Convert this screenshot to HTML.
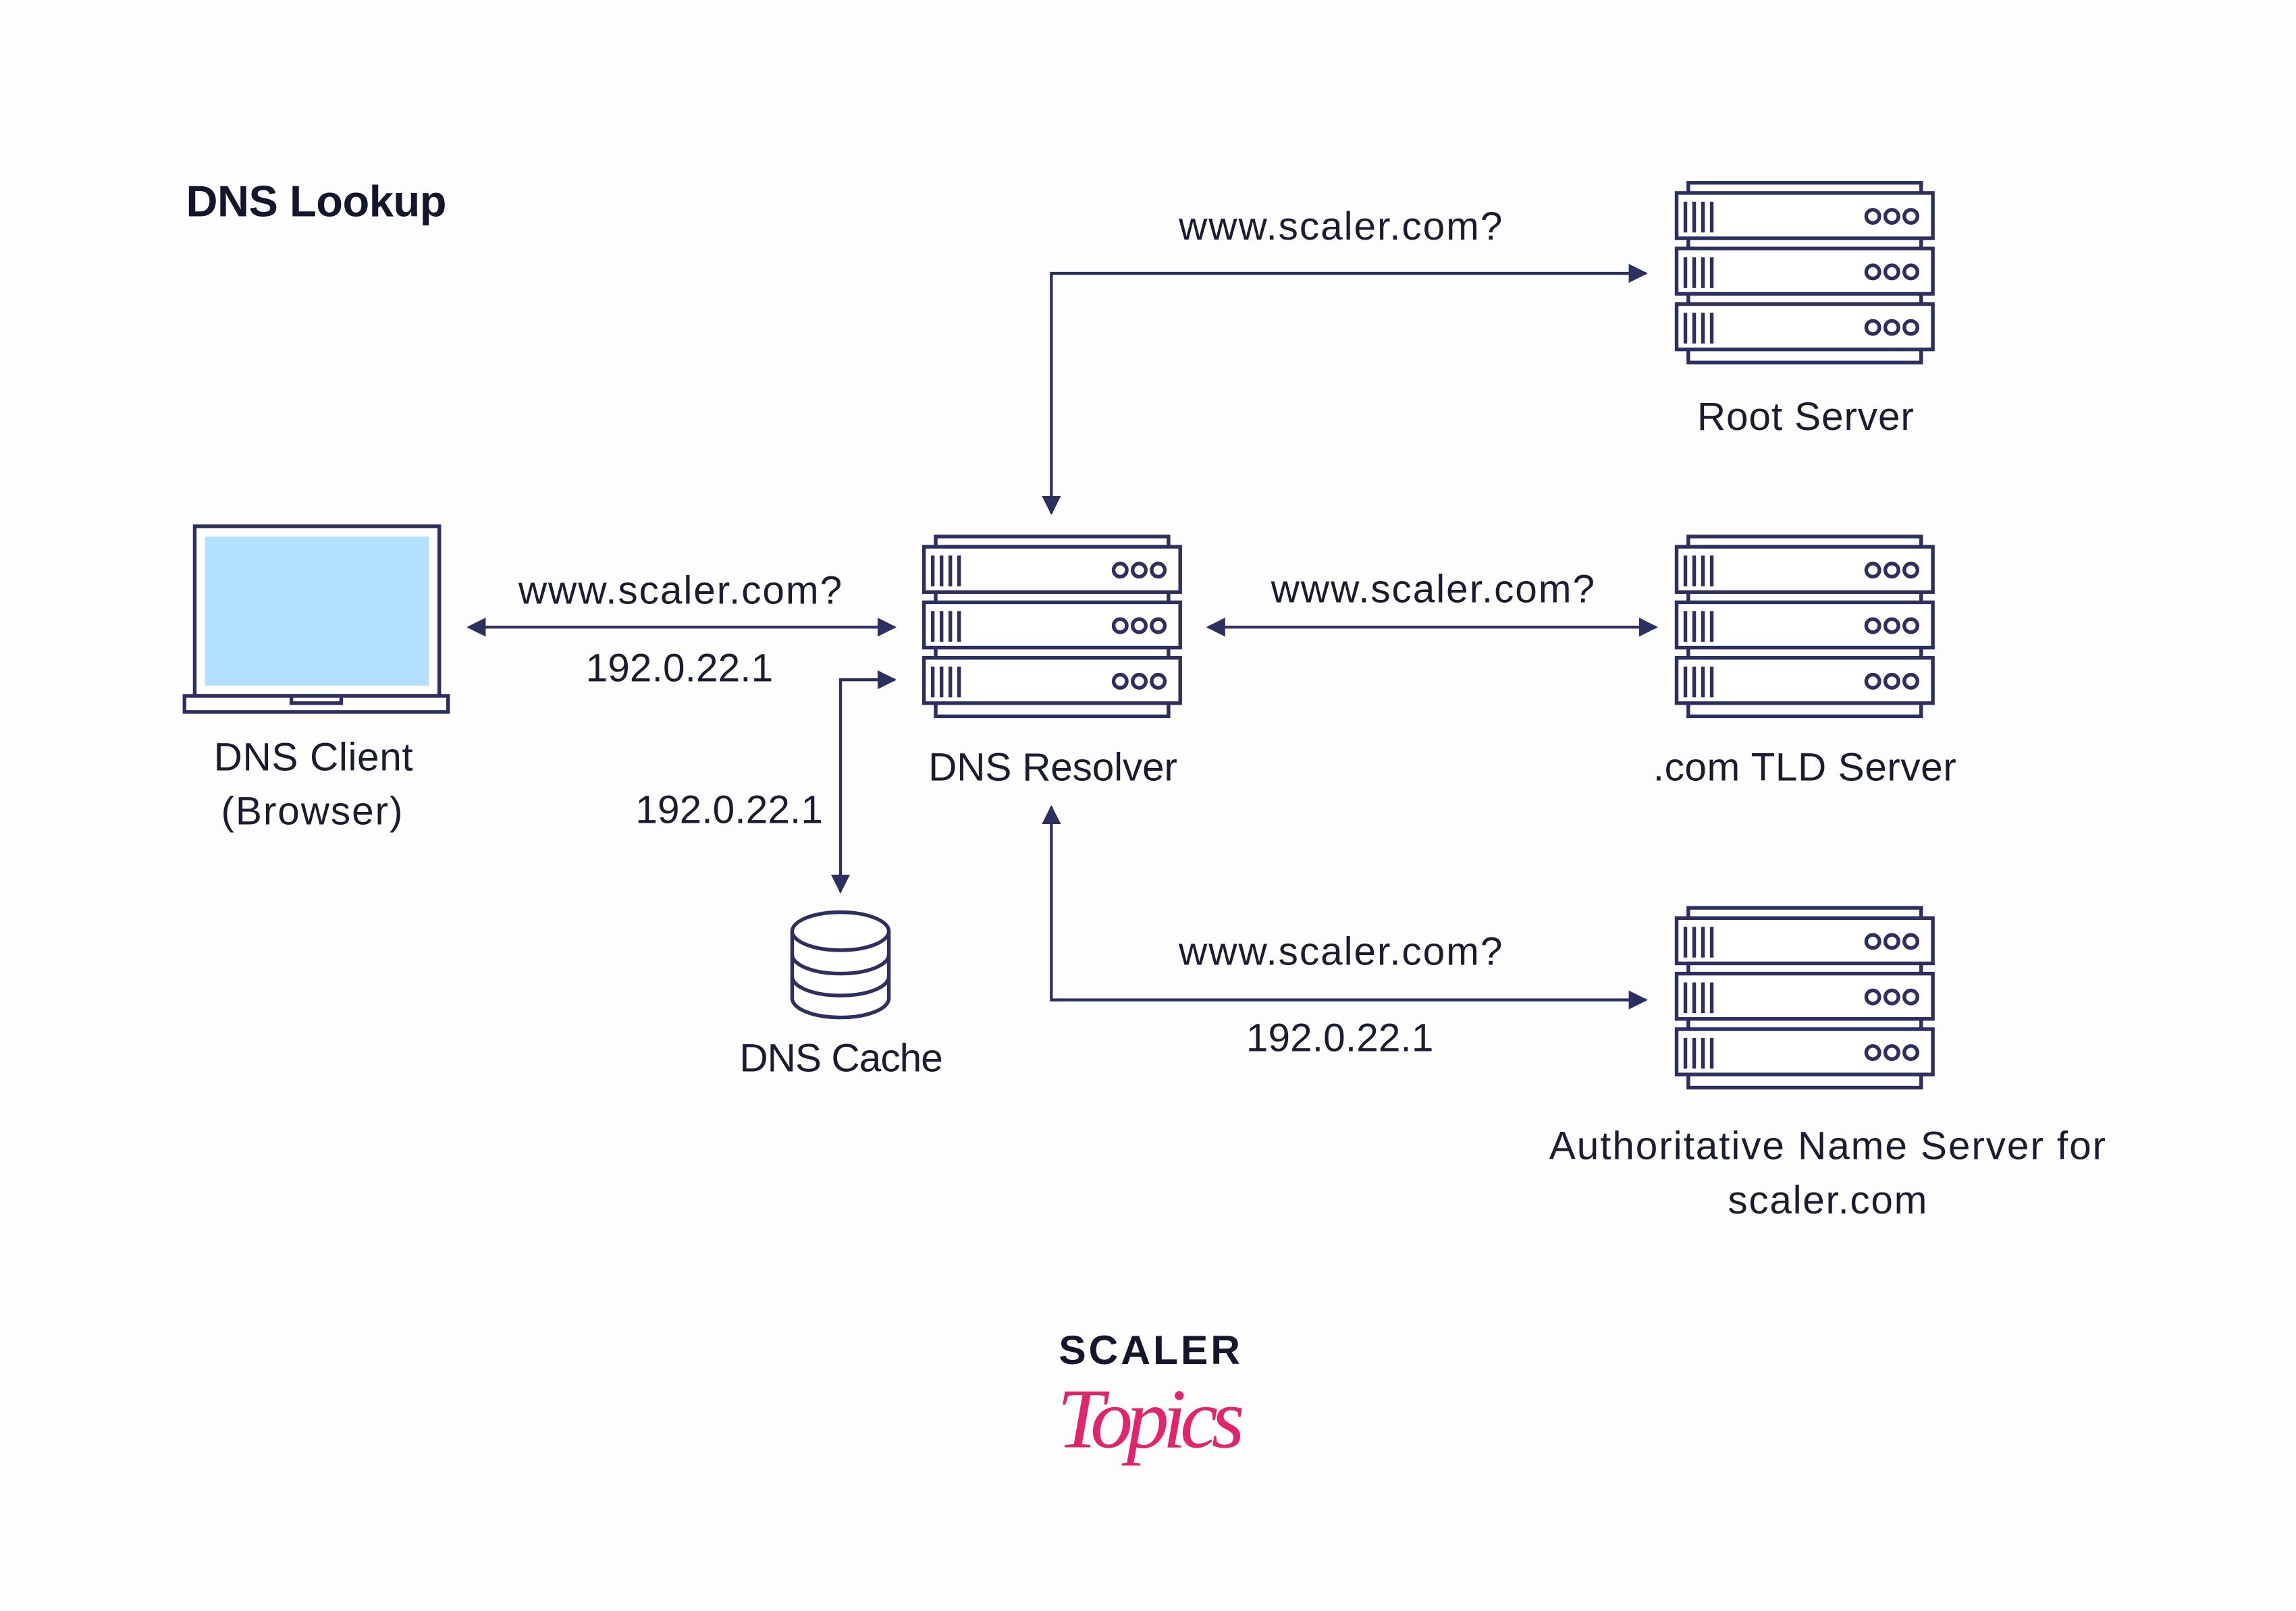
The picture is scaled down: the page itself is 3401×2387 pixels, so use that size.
<!DOCTYPE html>
<html><head><meta charset="utf-8"><style>html,body{margin:0;padding:0;background:#fdfdfd}svg{display:block}</style></head>
<body>
<svg width="3401" height="2387" viewBox="0 0 1568 1102" preserveAspectRatio="none" xmlns="http://www.w3.org/2000/svg">
<defs>
<g id="srv" fill="none" stroke="#2d2f5e" stroke-width="2.5">
<rect x="8" y="0" width="159" height="123"/>
<g id="unit"><rect x="0" y="7" width="175" height="31" fill="#fff"/>
<path d="M6 13v21M12 13v21M18 13v21M24 13v21"/>
<circle cx="134" cy="23" r="4.5"/><circle cx="147" cy="23" r="4.5"/><circle cx="160" cy="23" r="4.5"/></g>
<use href="#unit" y="38"/><use href="#unit" y="76"/>
</g>
<marker id="ar" viewBox="0 0 10 10" refX="9" refY="5" markerWidth="13" markerHeight="13" markerUnits="userSpaceOnUse" orient="auto-start-reverse"><path d="M0 0L10 5L0 10z" fill="#2d2f5e"/></marker>
</defs>
<rect width="1568" height="1102" fill="#fdfdfd"/>
<text x="127" y="148" font-family="Liberation Sans, sans-serif" font-weight="bold" font-size="30" fill="#14172b" textLength="178">DNS Lookup</text>

<use href="#srv" x="1145" y="125"/>
<use href="#srv" x="1145" y="367"/>
<use href="#srv" x="1145" y="621"/>
<use href="#srv" x="631" y="367"/>

<!-- laptop -->
<g stroke="#2d2f5e" stroke-width="2.5" fill="none">
<rect x="133" y="360" width="167" height="116" fill="#fff"/>
<rect x="140" y="367" width="153" height="102" fill="#b3e0ff" stroke="none"/>
<rect x="126" y="476" width="180" height="11" fill="#fff"/>
<path d="M199 476v5h34v-5"/>
</g>
<!-- cache -->
<g stroke="#2d2f5e" stroke-width="2.5" fill="#fff">
<path d="M541 637v46a33 13 0 0 0 66 0v-46"/>
<path d="M541 653a33 13 0 0 0 66 0M541 668a33 13 0 0 0 66 0" fill="none"/>
<ellipse cx="574" cy="637" rx="33" ry="13"/>
</g>
<!-- connectors -->
<g stroke="#2d2f5e" stroke-width="2" fill="none">
<path d="M718 351V187H1124" marker-start="url(#ar)" marker-end="url(#ar)"/>
<path d="M320 429H611" marker-start="url(#ar)" marker-end="url(#ar)"/>
<path d="M611 465H574V610" marker-start="url(#ar)" marker-end="url(#ar)"/>
<path d="M825 429H1131" marker-start="url(#ar)" marker-end="url(#ar)"/>
<path d="M718 552V684H1124" marker-start="url(#ar)" marker-end="url(#ar)"/>
</g>
<g font-family="Liberation Sans, sans-serif" font-size="27" fill="#1a1c30">
<text x="805" y="164" textLength="221">www.scaler.com?</text>
<text x="1159" y="294" textLength="148">Root Server</text>
<text x="354" y="413" textLength="221">www.scaler.com?</text>
<text x="400" y="466" textLength="128">192.0.22.1</text>
<text x="868" y="412" textLength="221">www.scaler.com?</text>
<text x="634" y="534" textLength="170">DNS Resolver</text>
<text x="1129" y="534" textLength="207">.com TLD Server</text>
<text x="146" y="527" textLength="136">DNS Client</text>
<text x="151" y="564" textLength="124">(Browser)</text>
<text x="434" y="563" textLength="128">192.0.22.1</text>
<text x="805" y="660" textLength="221">www.scaler.com?</text>
<text x="851" y="719" textLength="128">192.0.22.1</text>
<text x="505" y="733" textLength="139">DNS Cache</text>
<text x="1058" y="793" textLength="380">Authoritative Name Server for</text>
<text x="1180" y="830" textLength="136">scaler.com</text>
</g>
<text x="723" y="933" font-family="Liberation Sans, sans-serif" font-weight="bold" font-size="28" fill="#14172b" textLength="124">SCALER</text>
<text x="722" y="990" font-family="Liberation Serif, serif" font-style="italic" font-size="58" fill="#e0246e" textLength="128">Topics</text>
</svg>
</body></html>
